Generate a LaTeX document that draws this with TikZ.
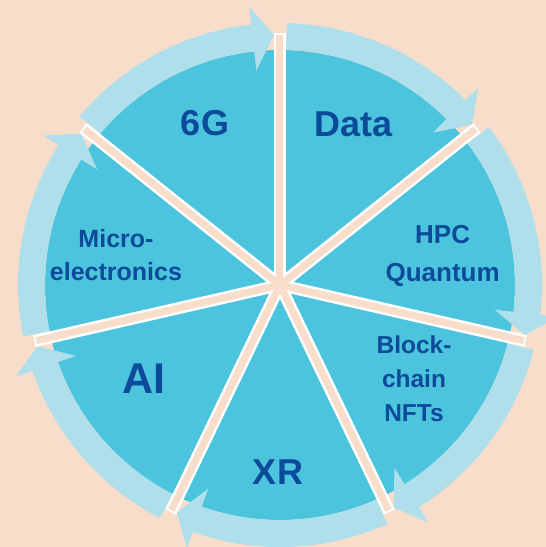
\documentclass[tikz,border=0pt]{standalone}
\usepackage{fontspec}
\setmainfont{Liberation Sans}
\usepackage{tikz}
\usetikzlibrary{positioning, calc}
\definecolor{bgpeach}{HTML}{F9DDCB}
\definecolor{sectorblue}{HTML}{4CC4DD}
\definecolor{ringblue}{HTML}{B0DFEC}
\definecolor{textblue}{HTML}{0C4A9A}
\tikzstyle{lbl} = [text = textblue, align = center, inner sep = 0pt]
\tikzstyle{spokeline} = [draw = white, line width = 12]
\tikzstyle{spokegap} = [draw = bgpeach, line width = 7]

\begin{document}
\begin{tikzpicture}[x = 1pt, y = 1pt]
\useasboundingbox (-280,-262) rectangle (266,285) ;
\clip (-280,-262) rectangle (266,285) ;
\fill[bgpeach] (-280,-262) rectangle (266,285) ;
\coordinate (c) at (0,0) ;
\fill[sectorblue] (c) circle (235) ;

% arrows round the wheel
\foreach \k in {0,...,6} {
  \pgfmathsetmacro\s{90-360/7*\k-1.5}
  \pgfmathsetmacro\h{90-360/7*(\k+1)+6.3}
  \pgfmathsetmacro\t{90-360/7*(\k+1)+1.3}
  \fill[ringblue] (\s:262) arc[start angle = \s, end angle = \h, radius = 262] -- (\h:280) -- (\t:250) -- (\h:216) -- (\h:235) arc[start angle = \h, end angle = \s, radius = 235] -- cycle ;
}

% spokes
\foreach \k in {0,...,6} {
  \draw[spokeline] (c) -- (90-360/7*\k:252) ;
}
\foreach \k in {0,...,6} {
  \draw[spokegap] (c) -- (90-360/7*\k:250) ;
}
\fill[bgpeach] (c) circle (7) ;

\node (g6) [lbl, font = \bfseries\fontsize{36}{40}\selectfont] at (-75,161.5) {6G} ;
\node (data) [lbl, font = \bfseries\fontsize{36}{40}\selectfont] at (74,161) {Data} ;
\node (hpc) [lbl, font = \bfseries\fontsize{26}{38.4}\selectfont] at (162.6,29) {HPC \\ Quantum} ;
\node (chain) [lbl, font = \bfseries\fontsize{24.5}{34}\selectfont] at (134,-94) {Block- \\ chain \\ NFTs} ;
\node (xr) [lbl, font = \bfseries\fontsize{36}{40}\selectfont] at (-2,-187) {XR} ;
\node (ai) [lbl, font = \bfseries\fontsize{43}{48}\selectfont] at (-136,-93.5) {AI} ;
\node (micro) [lbl, font = \bfseries\fontsize{25}{33.5}\selectfont] at (-164,30) {Micro- \\ electronics} ;
\end{tikzpicture}
\end{document}
